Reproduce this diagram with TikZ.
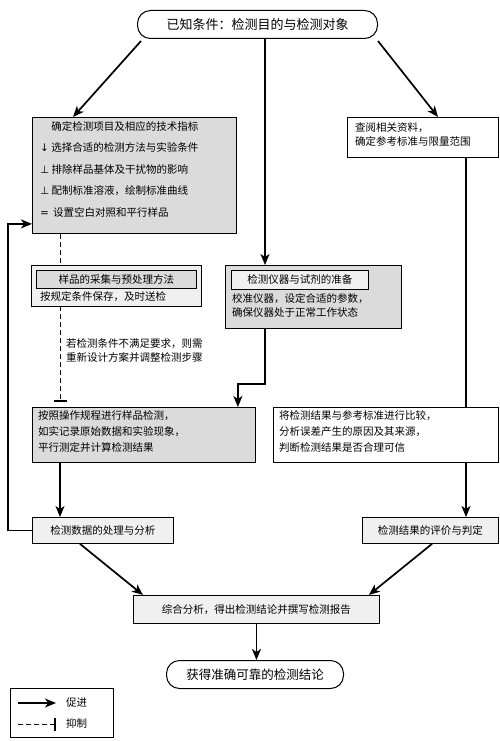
\documentclass[tikz,border=0pt]{standalone}
\usepackage{fontspec}
\newfontfamily\cjk{Noto Sans CJK SC}
\newfontfamily\symf{DejaVu Sans}
\usetikzlibrary{arrows.meta,calc}
\pgfdeclarelayer{links}
\pgfsetlayers{links,main}
\begin{document}
\begin{tikzpicture}[x=1pt,y=-1pt,
  font=\cjk\fontsize{10.5}{14}\selectfont,
  box/.style={draw,line width=0.9pt,rectangle,inner sep=0pt,anchor=north west},
  pill/.style={draw,line width=1pt,rectangle,rounded corners=13pt,inner sep=0pt,anchor=north west},
  dark/.style={fill=gray!28},
  light/.style={fill=gray!12},
  txt/.style={inner sep=0pt,align=left},
  arr/.style={line width=1.7pt,-{Stealth[length=11pt,width=9pt,inset=3pt]}},
  inh/.style={line width=1pt,dashed,dash pattern=on 5pt off 3pt,-{Bar[width=13pt,line width=1.6pt]}},
  plain/.style={line width=1.7pt}]
\useasboundingbox (0,0) rectangle (500,741);

% terminal nodes
\node[pill,minimum width=240,minimum height=28,font=\cjk\fontsize{13}{15}\selectfont] (top) at (137,10) {已知条件：检测目的与检测对象};
\node[pill,minimum width=177,minimum height=28,font=\cjk\fontsize{12.5}{14}\selectfont] (J) at (166,660) {获得准确可靠的检测结论};

% first row
\node[box,dark,minimum width=204,minimum height=116] (A) at (32,117) {};
\node[txt,anchor=north west,font=\cjk\fontsize{10.5}{21.5}\selectfont] (Atext) at (40,121) {%
\hphantom{\symf ↓} 确定检测项目及相应的技术指标\\
{\symf ↓} 选择合适的检测方法与实验条件\\
{\symf ⊥} 排除样品基体及干扰物的影响\\
{\symf ⊥} 配制标准溶液，绘制标准曲线\\
{\symf =} \,设置空白对照和平行样品};
\node[box,minimum width=151,minimum height=40] (B) at (347,117) {};
\node[txt,anchor=north west] (Btext) at (355,122) {查阅相关资料，\\确定参考标准与限量范围};

% second row
\node[box,light,minimum width=170,minimum height=41] (C) at (31,265) {};
\node[box,dark,minimum width=160,minimum height=18] (Cin) at (36,270) {样品的采集与预处理方法};
\node[txt,anchor=north west] (Ctext) at (40,291) {按规定条件保存，及时送检};
\node[box,dark,minimum width=176,minimum height=63] (D) at (225,265) {};
\node[box,light,minimum width=137,minimum height=19] (Din) at (231,270) {检测仪器与试剂的准备};
\node[txt,anchor=north west] (Dtext) at (232,293) {校准仪器，设定合适的参数，\\确保仪器处于正常工作状态};

% note beside the dashed line
\node[txt,anchor=north west] (note) at (66,338) {若检测条件不满足要求，则需\\重新设计方案并调整检测步骤};

% third row
\node[box,dark,minimum width=223,minimum height=55] (E) at (32,407) {};
\node[txt,anchor=north west,font=\cjk\fontsize{10.5}{16}\selectfont] (Etext) at (38,410) {按照操作规程进行样品检测，\\如实记录原始数据和实验现象，\\平行测定并计算检测结果};
\node[box,minimum width=225,minimum height=55] (F) at (273,407) {};
\node[txt,anchor=north west,font=\cjk\fontsize{10.5}{16}\selectfont] (Ftext) at (279,410) {将检测结果与参考标准进行比较，\\分析误差产生的原因及其来源，\\判断检测结果是否合理可信};

% fourth row
\node[box,light,minimum width=141,minimum height=26] (G) at (32,517) {检测数据的处理与分析};
\node[box,light,minimum width=136,minimum height=26] (H) at (362,517) {检测结果的评价与判定};

% summary
\node[box,light,minimum width=246,minimum height=28] (I) at (133,595) {综合分析，得出检测结论并撰写检测报告};

% legend
\node[box,minimum width=103,minimum height=49] (L) at (10,688) {};
\coordinate (l1a) at (18,703);
\coordinate (l1b) at (56,703);
\coordinate (l2a) at (18,724);
\coordinate (l2b) at (56,724);
\node[txt,anchor=west] (lt1) at (66,703) {促进};
\node[txt,anchor=west] (lt2) at (66,724) {抑制};
\draw[arr] (l1a) -- (l1b);
\draw[inh] (l2a) -- (l2b);

% routing columns
\coordinate (lx) at (60,0);
\coordinate (mx) at (265,0);
\coordinate (rx) at (466,0);

% connectors, kept beneath the boxes
\begin{pgfonlayer}{links}
\draw[arr] ($(top.south west)+(4,2)$) -- ($(A.north west)+(41,0)$);
\draw[arr] ($(top.south east)+(0,2)$) -- ($(B.north west)+(91,0)$);
\draw[arr] (top.south -| mx) -- (D.north -| mx);
\draw[inh,shorten >=5pt] (A.south -| lx) -- (E.north -| lx);
\draw[arr] (D.south -| mx) -- ++(0,55) -| ($(E.north east)+(-18,0)$);
\draw[plain] (B.south -| rx) -- (F.north -| rx);
\draw[arr] (E.south -| lx) -- (G.north -| lx);
\draw[arr] (F.south -| rx) -- (H.north -| rx);
\draw[arr] (G.west) -| ($(A.south west)+(-24,-10)$) -- ($(A.south west)+(0,-10)$);
\draw[arr] ($(G.south west)+(48,0)$) -- ($(I.north west)+(10,0)$);
\draw[arr] ($(H.south west)+(70,0)$) -- ($(I.north east)+(-11,0)$);
\draw[arr] (I.south) -- (I.south |- J.north);
\end{pgfonlayer}
\end{tikzpicture}
\end{document}
